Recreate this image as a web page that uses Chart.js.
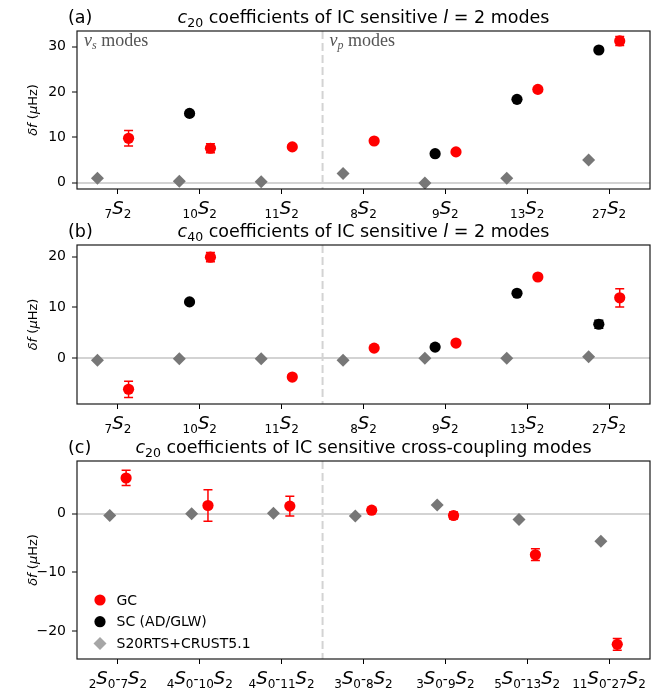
<!DOCTYPE html>
<html>
<head>
<meta charset="utf-8">
<title>IC sensitive mode coefficients</title>
<script src="https://cdn.jsdelivr.net/npm/chart.js@4.4.0/dist/chart.umd.min.js"></script>
<style>
  body { margin: 0; background: #fff; }
  #wrap { position: relative; width: 665px; height: 690px; }
  canvas { position: absolute; left: 0; }
</style>
</head>
<body>
<div id="wrap">
  <canvas id="panelA" width="665" height="222" style="top:0"></canvas>
  <canvas id="panelB" width="665" height="218" style="top:222px"></canvas>
  <canvas id="panelC" width="665" height="250" style="top:440px"></canvas>
</div>
<script>
const FONT = '"DejaVu Sans"';
const SERIF = '"Liberation Serif"';

// mode names, written as nSl
const l2Modes = ['7S2', '10S2', '11S2', '8S2', '9S2', '13S2', '27S2'];
const crossModes = ['2S0-7S2', '4S0-10S2', '4S0-11S2', '3S0-8S2', '3S0-9S2', '5S0-13S2', '11S0-27S2'];

const yTicksA = [0, 10, 20, 30];
const yTicksB = [0, 10, 20];
const yTicksC = [-20, -10, 0];

// (a) c20 of l=2 modes
const gcC20 = [9.8, 7.6, 7.9, 9.2, 6.8, 20.6, 31.3];
const gcC20Err = [1.7, 1.0, 0.3, 0.3, 0.3, 0.4, 1.0];
const scC20 = [null, 15.3, null, null, 6.4, 18.4, 29.3];
const scC20Err = [null, 0.3, null, null, 0.3, 0.3, 0.3];
const synC20 = [1.0, 0.3, 0.2, 2.0, -0.1, 1.0, 5.0];

// (b) c40 of l=2 modes
const gcC40 = [-6.1, 19.9, -3.7, 2.0, 3.0, 16.0, 11.9];
const gcC40Err = [1.6, 0.9, 0.3, 0.3, 0.3, 0.3, 1.8];
const scC40 = [null, 11.1, null, null, 2.2, 12.8, 6.7];
const scC40Err = [null, 0.3, null, null, 0.3, 0.3, 0.8];
const synC40 = [-0.4, -0.1, -0.1, -0.4, 0.0, 0.0, 0.3];

// (c) c20 of cross-coupled pairs
const gcCross = [6.1, 1.4, 1.3, 0.6, -0.3, -7.0, -22.3];
const gcCrossErr = [1.3, 2.7, 1.7, 0.3, 0.6, 1.0, 1.0];
const synCross = [-0.3, 0.0, 0.1, -0.4, 1.5, -1.0, -4.7];

const RED = '#ff0000';
const BLACK = '#000000';
const GREY = '#777777';
const LEGEND_GREY = '#a6a6a6';
const LIGHT = '#d3d3d3';

function points(vals, errs, shift) {
  const out = [];
  vals.forEach((v, i) => {
    if (v === null) return;
    out.push({ x: i + shift, y: v, err: errs ? errs[i] : null });
  });
  return out;
}

function buildDatasets(gc, gcErr, sc, scErr, syn, shifts) {
  return [
    { label: 'GC', data: points(gc, gcErr, shifts.gc), pointStyle: 'circle', pointRadius: 5.6,
      backgroundColor: RED, borderWidth: 0, errColor: RED },
    { label: 'SC (AD/GLW)', data: sc ? points(sc, scErr, shifts.sc) : [], pointStyle: 'circle', pointRadius: 5.6,
      backgroundColor: BLACK, borderWidth: 0, errColor: BLACK },
    { label: 'S20RTS+CRUST5.1', data: points(syn, null, shifts.syn), pointStyle: 'rectRot', pointRadius: 6.5,
      backgroundColor: GREY, borderWidth: 0, legendColor: LEGEND_GREY }
  ];
}

// runs of differently styled text drawn one after another
function runsWidth(ctx, runs) {
  let w = 0;
  runs.forEach(r => { ctx.font = r.font; w += ctx.measureText(r.text).width; });
  return w;
}
function drawRuns(ctx, runs, x, y, align) {
  let cx = align === 'center' ? x - runsWidth(ctx, runs) / 2 : x;
  ctx.textAlign = 'left';
  ctx.textBaseline = 'alphabetic';
  runs.forEach(r => {
    ctx.font = r.font;
    ctx.fillStyle = r.color || '#000';
    ctx.fillText(r.text, cx, y + (r.dy || 0));
    cx += ctx.measureText(r.text).width;
  });
}

function modeRuns(label) {
  const runs = [];
  label.split('-').forEach((part, k) => {
    if (k > 0) runs.push({ text: '-', font: `14px ${FONT}` });
    const m = part.match(/^(\d+)S(\d+)$/);
    runs.push({ text: m[1], font: `12px ${FONT}`, dy: 4 });
    runs.push({ text: 'S', font: `italic 18px ${FONT}` });
    runs.push({ text: m[2], font: `12px ${FONT}`, dy: 4 });
  });
  return runs;
}

function titleRuns(order, l2) {
  const runs = [
    { text: 'c', font: `italic 17.5px ${FONT}` },
    { text: order, font: `12.5px ${FONT}`, dy: 4 },
    { text: ' coefficients of IC sensitive ', font: `17.5px ${FONT}` }
  ];
  if (l2) {
    runs.push({ text: 'l', font: `italic 17.5px ${FONT}` });
    runs.push({ text: ' = 2 modes', font: `17.5px ${FONT}` });
  } else {
    runs.push({ text: 'cross-coupling modes', font: `17.5px ${FONT}` });
  }
  return runs;
}

const yLabelRuns = [
  { text: 'δ', font: `italic 13px ${FONT}` },
  { text: 'f', font: `italic 13px ${FONT}` },
  { text: ' (', font: `13px ${FONT}` },
  { text: 'μ', font: `italic 13px ${FONT}` },
  { text: 'Hz)', font: `13px ${FONT}` }
];

function noteRuns(sub) {
  return [
    { text: 'v', font: `italic 18px ${SERIF}`, color: '#555' },
    { text: sub, font: `italic 12px ${SERIF}`, color: '#555', dy: 3 },
    { text: ' modes', font: `18px ${SERIF}`, color: '#555' }
  ];
}

function drawMarker(ctx, style, r, x, y) {
  ctx.beginPath();
  if (style === 'rectRot') {
    ctx.moveTo(x, y - r); ctx.lineTo(x + r, y); ctx.lineTo(x, y + r); ctx.lineTo(x - r, y);
    ctx.closePath();
  } else {
    ctx.arc(x, y, r, 0, Math.PI * 2);
  }
  ctx.fill();
}

function deco(cfg) {
  return {
    id: 'deco',
    beforeDatasetsDraw(chart) {
      const { ctx, chartArea: a, scales: { x, y } } = chart;
      ctx.save();
      // s / p separator
      const sx = x.getPixelForValue(2.5);
      ctx.strokeStyle = LIGHT;
      ctx.lineWidth = 2;
      ctx.setLineDash([8, 4]);
      ctx.beginPath();
      ctx.moveTo(sx, a.top);
      ctx.lineTo(sx, a.bottom);
      ctx.stroke();
      ctx.setLineDash([]);
      // error bars
      chart.data.datasets.forEach(ds => {
        if (!ds.errColor) return;
        ctx.strokeStyle = ds.errColor;
        ctx.lineWidth = 1.5;
        ds.data.forEach(p => {
          if (!p.err) return;
          const px = x.getPixelForValue(p.x);
          const y1 = y.getPixelForValue(p.y + p.err);
          const y2 = y.getPixelForValue(p.y - p.err);
          ctx.beginPath();
          ctx.moveTo(px, y1); ctx.lineTo(px, y2);
          ctx.moveTo(px - 4.5, y1); ctx.lineTo(px + 4.5, y1);
          ctx.moveTo(px - 4.5, y2); ctx.lineTo(px + 4.5, y2);
          ctx.stroke();
        });
      });
      ctx.restore();
    },
    afterDraw(chart) {
      const { ctx, chartArea: a, scales: { x } } = chart;
      ctx.save();
      // axes box
      ctx.strokeStyle = '#1a1a1a';
      ctx.lineWidth = 1.2;
      ctx.strokeRect(a.left, a.top, a.right - a.left, a.bottom - a.top);

      // titles
      drawRuns(ctx, [{ text: cfg.tag, font: `17.5px ${FONT}` }], 68, a.top - 8, 'left');
      drawRuns(ctx, cfg.title, (a.left + a.right) / 2, a.top - 8, 'center');

      // category labels
      cfg.labels.forEach((lab, i) => {
        drawRuns(ctx, modeRuns(lab), x.getPixelForValue(i), a.bottom + 25, 'center');
      });

      // y axis label
      ctx.save();
      ctx.translate(37, (a.top + a.bottom) / 2);
      ctx.rotate(-Math.PI / 2);
      drawRuns(ctx, yLabelRuns, 0, 0, 'center');
      ctx.restore();

      if (cfg.notes) {
        drawRuns(ctx, noteRuns('s'), a.left + 7, a.top + 15, 'left');
        drawRuns(ctx, noteRuns('p'), x.getPixelForValue(2.5) + 7, a.top + 15, 'left');
      }

      if (cfg.legend) {
        chart.data.datasets.forEach((ds, k) => {
          const ly = a.bottom - 59 + 21.7 * k;
          ctx.fillStyle = ds.legendColor || ds.backgroundColor;
          drawMarker(ctx, ds.pointStyle, ds.pointRadius, a.left + 23, ly);
          ctx.fillStyle = '#000';
          ctx.font = `14px ${FONT}`;
          ctx.textAlign = 'left';
          ctx.textBaseline = 'middle';
          ctx.fillText(ds.label, a.left + 39.5, ly + 1);
        });
      }
      ctx.restore();
    }
  };
}

function panel(id, cfg) {
  new Chart(document.getElementById(id), {
    type: 'scatter',
    data: { datasets: cfg.datasets },
    options: {
      responsive: false,
      animation: false,
      events: [],
      layout: { padding: { top: cfg.top, right: 15, bottom: 0, left: 0 } },
      plugins: { legend: { display: false }, tooltip: { enabled: false } },
      scales: {
        x: {
          type: 'linear', min: -0.5, max: 6.5,
          border: { display: false },
          grid: { drawOnChartArea: false, tickLength: 5, tickColor: '#000', tickWidth: 1 },
          ticks: { callback: () => '' },
          afterBuildTicks: s => { s.ticks = cfg.labels.map((_, i) => ({ value: i })); },
          afterFit: s => { s.height = cfg.xh; }
        },
        y: {
          min: cfg.yMin, max: cfg.yMax,
          border: { display: false },
          grid: {
            color: c => (c.tick && c.tick.value === 0 ? LIGHT : 'rgba(0,0,0,0)'),
            lineWidth: 2, tickLength: 5, tickColor: '#000', tickWidth: 1
          },
          ticks: {
            font: { family: 'DejaVu Sans', size: 14 }, color: '#000', padding: 6,
            callback: v => (v < 0 ? '\u2212' + Math.abs(v) : String(v))
          },
          afterBuildTicks: s => { s.ticks = cfg.yTicks.map(v => ({ value: v })); },
          afterFit: s => { s.width = 77; }
        }
      }
    },
    plugins: [deco(cfg)]
  });
}

const l2Shift = { syn: -0.25, sc: -0.125, gc: 0.13 };
const crossShift = { syn: -0.1, sc: 0, gc: 0.1 };

panel('panelA', {
  tag: '(a)', title: titleRuns('20', true), labels: l2Modes, notes: true,
  top: 31, xh: 33, yMin: -1.4, yMax: 33.5, yTicks: yTicksA,
  datasets: buildDatasets(gcC20, gcC20Err, scC20, scC20Err, synC20, l2Shift)
});

panel('panelB', {
  tag: '(b)', title: titleRuns('40', true), labels: l2Modes,
  top: 23, xh: 36, yMin: -9.0, yMax: 22.3, yTicks: yTicksB,
  datasets: buildDatasets(gcC40, gcC40Err, scC40, scC40Err, synC40, l2Shift)
});

panel('panelC', {
  tag: '(c)', title: titleRuns('20', false), labels: crossModes, legend: true,
  top: 21, xh: 31, yMin: -24.8, yMax: 9.0, yTicks: yTicksC,
  datasets: buildDatasets(gcCross, gcCrossErr, null, null, synCross, crossShift)
});
</script>
</body>
</html>
